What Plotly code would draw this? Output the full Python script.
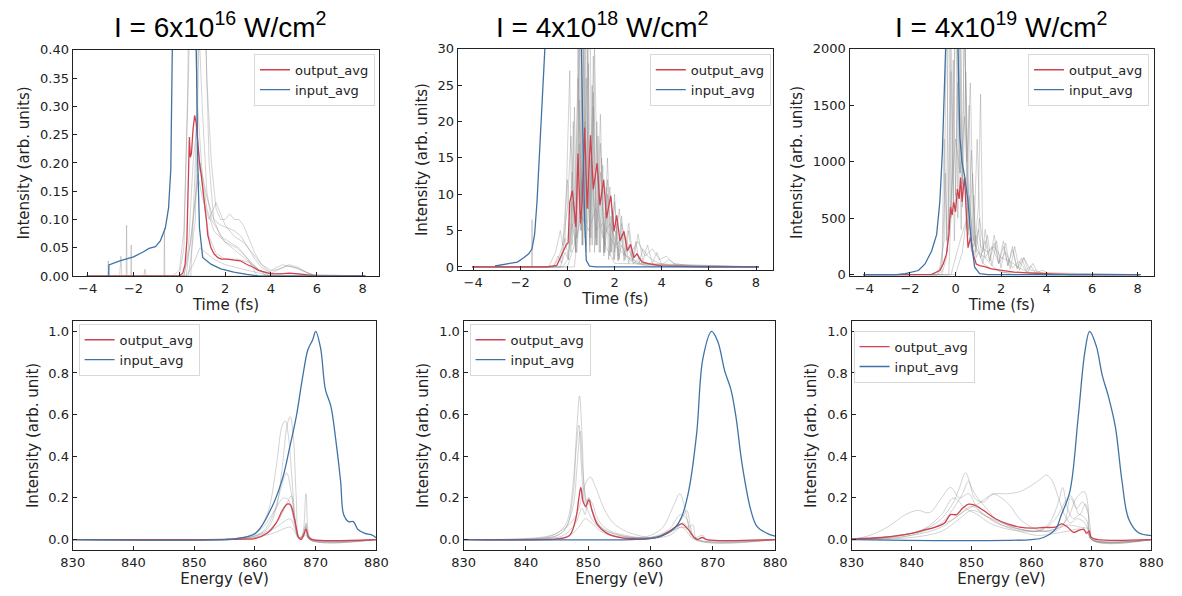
import plotly.graph_objects as go

# ---------------- titles / labels ----------------
titles = ["I = 6x10<sup>16</sup> W/cm<sup>2</sup>",
          "I = 4x10<sup>18</sup> W/cm<sup>2</sup>",
          "I = 4x10<sup>19</sup> W/cm<sup>2</sup>"]
time_ticks = [-4, -2, 0, 2, 4, 6, 8]
energy_ticks = [830, 840, 850, 860, 870, 880]
p1_yticks = [0, 0.05, 0.10, 0.15, 0.20, 0.25, 0.30, 0.35, 0.40]
p2_yticks = [0, 5, 10, 15, 20, 25, 30]
p3_yticks = [0, 500, 1000, 1500, 2000]
spec_yticks = [0, 0.2, 0.4, 0.6, 0.8, 1.0]

# ---------------- panel 1 : time, 6e16 ----------------
p1_red_t = [-4.04, 0.0, 0.15, 0.25, 0.33, 0.38, 0.44, 0.48, 0.53, 0.6, 0.67, 0.74, 0.8, 0.88, 0.97, 1.05, 1.1, 1.18, 1.24, 1.38, 1.52, 1.7, 1.85, 2.09, 2.4, 2.66, 2.97, 3.23, 3.45, 3.7, 4.0, 4.4, 4.8, 5.2, 5.6, 6.0, 8.12]
p1_red_v = [0, 0, 0.005, 0.02, 0.062, 0.14, 0.246, 0.21, 0.217, 0.26, 0.284, 0.27, 0.24, 0.2, 0.175, 0.15, 0.13, 0.1, 0.073, 0.05, 0.039, 0.032, 0.03, 0.03, 0.028, 0.027, 0.02, 0.0156, 0.01, 0.007, 0.004, 0.004, 0.005, 0.004, 0.002, 0, 0]
p1_blue_t = [-3.08, -3.07, -2.6, -2.0, -1.6, -1.4, -1.32, -1.04, -0.83, -0.61, -0.47, -0.37, -0.33, -0.3, 0.2, 0.74, 0.81, 0.88, 1.02, 1.38, 1.81, 2.38, 2.95, 3.5, 8.12]
p1_blue_v = [0, 0.0196, 0.027, 0.034, 0.042, 0.048, 0.049, 0.052, 0.062, 0.085, 0.12, 0.19, 0.30, 0.42, 1.5, 0.4, 0.19, 0.085, 0.033, 0.021, 0.0127, 0.007, 0.003, 0, 0]
p1_g1_t = [-4.04, -0.3, 0.0, 0.2, 0.4, 0.6, 0.8, 1.0, 1.2, 1.4, 1.6, 1.8, 2.0, 2.2, 2.4, 2.6, 2.8, 3.0, 3.3, 3.6, 4.0, 4.5, 5.0, 6.0, 8.12]
p1_g1_v = [0, 0, 0.01, 0.08, 0.35, 0.9, 1.2, 0.7, 0.35, 0.2, 0.12, 0.1, 0.1, 0.11, 0.1, 0.1, 0.09, 0.07, 0.04, 0.02, 0.01, 0.02, 0.015, 0, 0]
p1_g2_t = [-4.04, 0.0, 0.2, 0.35, 0.5, 0.65, 0.8, 1.0, 1.2, 1.5, 2.0, 2.5, 3.0, 3.5, 4.0, 8.12]
p1_g2_v = [0, 0, 0.05, 0.3, 0.7, 0.5, 0.3, 0.18, 0.12, 0.08, 0.06, 0.05, 0.03, 0.01, 0, 0]
p1_g3_t = [-4.04, 0.2, 0.4, 0.6, 0.75, 0.9, 1.1, 1.3, 1.6, 2.0, 2.5, 3.0, 3.5, 4.0, 4.5, 4.8, 5.2, 5.6, 6.0, 8.12]
p1_g3_v = [0, 0, 0.05, 0.2, 0.26, 0.2, 0.12, 0.07, 0.04, 0.03, 0.03, 0.025, 0.01, 0.005, 0.015, 0.02, 0.015, 0.005, 0, 0]
p1_g4_t = [-4.04, 0.2, 0.5, 0.8, 1.0, 1.3, 1.6, 2.0, 2.4, 2.8, 3.2, 3.6, 4.0, 8.12]
p1_g4_v = [0, 0, 0.06, 0.18, 0.14, 0.1, 0.13, 0.09, 0.07, 0.06, 0.04, 0.02, 0.005, 0]
p1_g5_t = [-4.04, 0.3, 0.6, 0.9, 1.2, 1.5, 2.0, 2.5, 3.0, 3.5, 4.0, 8.12]
p1_g5_v = [0, 0, 0.02, 0.05, 0.04, 0.03, 0.02, 0.015, 0.01, 0.005, 0, 0]
p1_g6_t = [-4.04, -3.11, -3.1, -3.09, -2.6, -2.55, -2.5, -2.32, -2.3, -2.28, -2.12, -2.1, -2.08, -1.55, -1.5, -1.45, -0.67, -0.65, -0.63, -0.4, 8.12]
p1_g6_v = [0, 0, 0.027, 0, 0, 0.035, 0, 0, 0.09, 0, 0, 0.055, 0, 0, 0.012, 0, 0, 0.085, 0, 0, 0]
p1_g7_t = [-4.04, 0.4, 0.7, 0.9, 1.0, 1.1, 1.3, 1.5, 1.8, 2.2, 2.6, 3.0, 3.4, 8.12]
p1_g7_v = [0, 0, 0.1, 0.5, 0.8, 0.5, 0.2, 0.1, 0.07, 0.06, 0.05, 0.03, 0.0, 0]
p1_g8_t = [-4.04, 0.3, 0.6, 0.9, 1.2, 1.5, 1.8, 2.1, 2.4, 2.7, 3.0, 3.3, 3.6, 3.9, 4.3, 4.7, 5.1, 5.5, 5.9, 8.12]
p1_g8_v = [0, 0, 0.1, 0.2, 0.14, 0.1, 0.09, 0.085, 0.08, 0.07, 0.05, 0.03, 0.015, 0.008, 0.012, 0.018, 0.015, 0.008, 0, 0]
p1_g9_t = [-4.04, 0.5, 0.7, 0.85, 1.0, 1.2, 1.4, 1.7, 2.0, 2.3, 2.6, 2.9, 3.2, 3.5, 3.8, 8.12]
p1_g9_v = [0, 0, 0.2, 0.45, 0.3, 0.15, 0.1, 0.08, 0.06, 0.05, 0.04, 0.03, 0.02, 0.01, 0, 0]

# ---------------- panel 2 : time, 4e18 ----------------
p2_red_t = [-4.04, -0.9, -0.45, -0.18, -0.04, 0.03, 0.1, 0.21, 0.3, 0.36, 0.45, 0.55, 0.63, 0.73, 0.84, 0.98, 1.1, 1.26, 1.38, 1.54, 1.66, 1.84, 1.98, 2.09, 2.23, 2.4, 2.54, 2.68, 2.82, 2.95, 3.16, 3.44, 4.0, 5.1, 6.0, 8.12]
p2_red_v = [0, 0, 0.2, 2.2, 3.1, 3.3, 8.9, 10.5, 8.0, 5.5, 15.6, 6.0, 9.0, 19.2, 8.0, 18.1, 10.7, 14.3, 8.5, 12.0, 6.7, 9.8, 4.9, 7.1, 3.6, 4.9, 2.2, 3.1, 1.3, 1.8, 0.7, 0.45, 0.15, 0.03, 0, 0]
p2_blue_t = [-3.07, -2.4, -2.12, -1.84, -1.64, -1.5, -1.39, -1.29, -1.15, -1.0, -0.94, -0.2, 0.59, 0.66, 0.73, 0.8, 0.94, 1.2, 8.12]
p2_blue_v = [0.13, 0.45, 0.67, 1.3, 1.8, 2.5, 4.5, 8.9, 17.9, 26.8, 31, 60, 31, 17.9, 6.7, 0.9, 0.1, 0, 0]
p2_g1_t = [-4.04, -0.5, -0.3, -0.1, 0.1, 0.2, 0.3, 0.4, 0.5, 0.6, 0.7, 0.8, 0.9, 1.0, 1.1, 1.2, 1.3, 1.4, 1.5, 1.6, 1.7, 1.8, 1.9, 2.0, 2.1, 2.2, 2.3, 2.4, 2.5, 2.6, 2.7, 2.8, 3.0, 3.2, 3.5, 4.0, 4.5, 8.12]
p2_g1_v = [0, 0, 1, 4, 27, 3, 22, 4, 35, 5, 33, 6, 28, 4, 24, 3, 18, 2, 14, 2, 10, 1.5, 8, 1, 6, 1, 4.5, 0.8, 3, 0.5, 2, 0.4, 1.2, 0.6, 0.3, 0.1, 0, 0]
p2_g2_t = [-4.04, -0.8, -0.5, -0.3, -0.2, 0.0, 0.15, 0.25, 0.35, 0.45, 0.55, 0.65, 0.75, 0.85, 0.95, 1.05, 1.15, 1.25, 1.35, 1.45, 1.55, 1.65, 1.75, 1.85, 1.95, 2.05, 2.15, 2.3, 2.5, 2.7, 3.0, 3.5, 8.12]
p2_g2_v = [0, 0, 2, 5, 3, 12, 2, 20, 3, 31, 5, 40, 4, 30, 3, 25, 2, 20, 2, 15, 1.5, 11, 1, 7, 1, 5, 0.8, 3, 1.5, 0.8, 0.4, 0.1, 0]
p2_g3_t = [-4.04, -0.2, 0.0, 0.2, 0.4, 0.6, 0.8, 1.0, 1.2, 1.4, 1.6, 1.8, 2.0, 2.2, 2.4, 2.6, 2.8, 3.0, 3.2, 3.4, 3.6, 3.8, 4.0, 4.3, 4.6, 5.0, 8.12]
p2_g3_v = [0, 0, 1, 6, 2, 12, 3, 15, 4, 13, 3, 11, 2, 8, 1.5, 6, 1, 4.5, 0.8, 3, 0.5, 2, 0.3, 1, 0.3, 0, 0]
p2_g4_t = [-4.04, -1.52, -1.5, -1.48, -0.6, -0.4, -0.2, 0.0, 0.15, 0.3, 0.45, 0.6, 0.75, 0.9, 1.05, 1.2, 1.5, 2.0, 2.5, 3.0, 8.12]
p2_g4_v = [0, 0, 6.5, 0, 0, 1, 3, 8, 18, 6, 26, 10, 20, 8, 14, 5, 6, 3, 1.5, 0.5, 0]
p2_g5_t = [-4.04, 0.3, 0.45, 0.55, 0.62, 0.7, 0.8, 0.95, 1.05, 1.15, 1.3, 1.6, 2.0, 8.12]
p2_g5_v = [0, 0, 5, 45, 3, 50, 2, 40, 3, 30, 8, 3, 0.5, 0]
p2_g6_t = [-4.04, -0.6, -0.4, -0.25, -0.1, 0.05, 0.2, 0.35, 0.5, 0.65, 0.8, 0.95, 1.1, 1.25, 1.4, 1.55, 1.7, 1.85, 2.0, 2.15, 2.3, 2.45, 2.6, 2.75, 2.9, 3.05, 3.2, 3.4, 3.6, 3.9, 4.3, 8.12]
p2_g6_v = [0, 0, 1.5, 0.5, 4, 1, 9, 2, 17, 3, 26, 4, 22, 3, 17, 2, 12, 2, 9, 1.5, 7, 1, 5, 0.8, 3.5, 0.6, 2.5, 1.5, 1, 0.5, 0.2, 0]
p2_g7_t = [-4.04, -0.3, -0.1, 0.05, 0.2, 0.35, 0.5, 0.65, 0.8, 0.95, 1.1, 1.25, 1.4, 1.55, 1.7, 1.85, 2.0, 2.15, 2.3, 2.5, 2.8, 3.2, 8.12]
p2_g7_v = [0, 0, 2, 1, 13, 2, 23, 3, 38, 2, 29, 3, 21, 2, 15, 2, 10, 1, 6, 3, 1, 0.3, 0]
p2_g8_t = [-4.04, 0.0, 0.3, 0.6, 0.9, 1.2, 1.5, 1.8, 2.1, 2.4, 2.7, 3.0, 3.3, 3.6, 3.9, 4.2, 4.5, 5.0, 5.5, 8.12]
p2_g8_v = [0, 0, 3, 7, 5, 8, 4, 6, 3, 4.5, 2, 3.5, 1.5, 2.5, 1, 1.5, 0.5, 0.3, 0, 0]

# ---------------- panel 3 : time, 4e19 ----------------
p3_red_t = [-4.04, -1.05, -0.69, -0.54, -0.4, -0.29, -0.22, -0.15, -0.08, 0.0, 0.08, 0.16, 0.22, 0.29, 0.36, 0.4, 0.48, 0.55, 0.62, 0.67, 0.77, 0.91, 1.06, 1.28, 1.57, 2.0, 2.58, 3.31, 4.04, 5.06, 8.12]
p3_red_v = [0, 3, 37, 95, 182, 355, 600, 528, 644, 557, 759, 672, 860, 644, 802, 860, 500, 240, 297, 332, 182, 95, 81, 72, 52, 37, 23, 14, 6, 0, 0]
p3_blue_t = [-4.04, -2.6, -2.21, -1.63, -1.34, -1.05, -0.83, -0.69, -0.58, -0.5, -0.44, -0.2, 0.11, 0.19, 0.29, 0.4, 0.55, 0.69, 0.84, 1.06, 1.42, 8.12]
p3_blue_v = [0, 0, 8.7, 37, 95, 210, 355, 644, 1076, 1509, 2000, 3500, 2000, 1220, 990, 874, 644, 297, 66, 8.7, 0, 0]
p3_g1_t = [-4.04, -1.0, -0.7, -0.5, -0.4, -0.3, -0.2, -0.1, 0.0, 0.1, 0.2, 0.3, 0.4, 0.5, 0.6, 0.7, 0.8, 0.9, 1.0, 1.2, 1.5, 2.0, 2.5, 8.12]
p3_g1_v = [0, 0, 50, 300, 2500, 400, 1800, 600, 3000, 500, 2200, 800, 2600, 400, 1500, 300, 700, 150, 200, 100, 60, 30, 0, 0]
p3_g2_t = [-4.04, -0.8, -0.6, -0.45, -0.35, -0.2, -0.05, 0.1, 0.25, 0.4, 0.55, 0.7, 0.85, 1.0, 1.1, 1.2, 1.3, 1.5, 1.7, 1.9, 2.1, 2.3, 2.5, 2.7, 3.0, 3.3, 3.6, 4.0, 8.12]
p3_g2_v = [0, 0, 30, 900, 200, 2100, 300, 1700, 400, 2300, 350, 1100, 250, 600, 1600, 200, 400, 120, 350, 100, 300, 80, 250, 50, 150, 40, 30, 0, 0]
p3_g3_t = [-4.04, 0.0, 0.3, 0.6, 0.8, 1.0, 1.2, 1.4, 1.6, 1.8, 2.0, 2.2, 2.4, 2.6, 2.8, 3.0, 3.2, 3.4, 3.6, 3.8, 4.2, 8.12]
p3_g3_v = [0, 0, 200, 700, 150, 400, 100, 350, 80, 300, 60, 280, 50, 250, 40, 150, 30, 100, 20, 40, 0, 0]
p3_g4_t = [-4.04, -0.6, -0.4, -0.2, 0.0, 0.2, 0.4, 0.6, 0.8, 1.0, 1.3, 1.6, 2.0, 8.12]
p3_g4_v = [0, 0, 150, 700, 1200, 900, 1400, 600, 300, 200, 150, 80, 20, 0]
p3_g5_t = [-4.04, -0.3, -0.15, 0.05, 0.2, 0.35, 0.5, 0.65, 0.8, 0.95, 1.1, 1.4, 1.7, 2.0, 2.4, 2.8, 3.2, 8.12]
p3_g5_v = [0, 0, 800, 2800, 900, 3000, 1000, 1700, 300, 1200, 250, 200, 250, 150, 120, 60, 20, 0]
p3_g6_t = [-4.04, -0.8, -0.6, -0.5, -0.4, -0.3, -0.2, -0.1, 0.0, 0.15, 0.3, 0.45, 0.6, 0.75, 0.9, 1.05, 1.3, 1.6, 1.9, 2.2, 2.5, 2.8, 3.1, 3.5, 8.12]
p3_g6_v = [0, 0, 100, 1200, 300, 2800, 500, 1900, 700, 2500, 600, 1800, 400, 900, 200, 500, 150, 250, 100, 200, 60, 120, 30, 0, 0]
p3_g7_t = [-4.04, -0.2, 0.2, 0.5, 0.7, 0.9, 1.1, 1.3, 1.5, 1.7, 1.9, 2.1, 2.3, 2.5, 2.7, 2.9, 3.1, 3.3, 3.5, 3.8, 8.12]
p3_g7_v = [0, 0, 300, 500, 200, 350, 150, 300, 120, 280, 100, 250, 80, 220, 60, 150, 40, 80, 20, 0, 0]

# ---------------- panel 4 : spectrum, 6e16 ----------------
p4_red_e = [830, 855, 858, 860, 862, 863.5, 864.5, 865.3, 865.8, 866.5, 867.2, 867.6, 868.0, 868.4, 868.9, 869.5, 880]
p4_red_v = [0, 0, 0.002, 0.005, 0.03, 0.08, 0.14, 0.17, 0.168, 0.1, 0.01, 0.0, 0.02, 0.05, 0.01, 0, 0]
p4_blue_e = [830, 855, 857, 860.1, 863.0, 864.6, 865.7, 866.8, 867.9, 868.7, 869.5, 870.0, 870.8, 871.6, 872.5, 873.3, 874.1, 874.6, 875.4, 876.2, 877.0, 878.1, 879.2, 880]
p4_blue_v = [0, 0, 0.005, 0.03, 0.17, 0.3, 0.44, 0.59, 0.79, 0.91, 0.96, 1.0, 0.92, 0.72, 0.64, 0.48, 0.28, 0.12, 0.086, 0.086, 0.047, 0.03, 0.023, 0.008]
p4_g1_e = [830, 850, 855, 858, 860, 862, 863.5, 864.5, 865, 865.5, 866.2, 866.8, 867.3, 867.8, 868.4, 868.9, 869.5, 880]
p4_g1_v = [0, 0, 0.003, 0.01, 0.03, 0.12, 0.35, 0.55, 0.57, 0.5, 0.25, 0.05, 0.005, 0.02, 0.22, 0.02, 0, 0]
p4_g2_e = [830, 852, 857, 860, 862, 863.5, 864.5, 865.3, 865.8, 866.3, 866.8, 867.3, 868, 868.4, 868.8, 869.5, 880]
p4_g2_v = [0, 0, 0.005, 0.02, 0.05, 0.15, 0.35, 0.55, 0.59, 0.5, 0.2, 0.01, 0.02, 0.08, 0.01, 0, 0]
p4_g3_e = [830, 853, 858, 861, 863, 864.3, 865.2, 866, 866.6, 867.2, 867.8, 868.4, 869, 880]
p4_g3_v = [0, 0, 0.005, 0.03, 0.12, 0.25, 0.32, 0.22, 0.08, 0.005, 0.01, 0.06, 0, 0]
p4_g4_e = [830, 852, 858, 861, 863, 864.3, 864.8, 865.5, 866.2, 866.8, 867.4, 868.4, 869, 880]
p4_g4_v = [0, 0, 0.01, 0.05, 0.13, 0.19, 0.2, 0.19, 0.12, 0.04, 0.005, 0.04, 0, 0]
p4_g5_e = [830, 854, 859, 862, 864, 865.2, 866, 866.5, 867, 867.5, 868.4, 869, 880]
p4_g5_v = [0, 0, 0.01, 0.04, 0.1, 0.17, 0.21, 0.12, 0.02, 0.0, 0.07, 0, 0]
p4_g6_e = [830, 855, 860, 863, 865, 865.8, 866.5, 867.2, 868.4, 869, 880]
p4_g6_v = [0, 0, 0.01, 0.05, 0.09, 0.1, 0.06, 0.01, 0.03, 0, 0]
p4_g7_e = [830, 856, 860, 863, 865, 865.8, 866.6, 867.2, 868.4, 869, 880]
p4_g7_v = [0, 0, 0.01, 0.03, 0.055, 0.06, 0.035, 0.005, 0.02, 0, 0]

# ---------------- panel 5 : spectrum, 4e18 ----------------
p5_red_e = [830, 843, 845, 847, 848, 848.5, 848.8, 849.2, 849.6, 850.1, 850.6, 851.5, 853, 855, 858, 861, 863, 864, 865, 866, 867, 867.5, 868.3, 869, 880]
p5_red_v = [0, 0, 0.003, 0.02, 0.1, 0.2, 0.25, 0.18, 0.16, 0.19, 0.14, 0.07, 0.03, 0.01, 0.003, 0.01, 0.04, 0.06, 0.075, 0.05, 0.01, 0.0, 0.01, 0, 0]
p5_blue_e = [830, 857, 860, 862, 864, 865, 866.1, 867.4, 868.4, 869.8, 870.8, 871.9, 872.9, 873.7, 874.7, 876.1, 877.1, 878.7, 880]
p5_blue_v = [0, 0, 0.005, 0.02, 0.06, 0.11, 0.23, 0.51, 0.87, 1.0, 0.95, 0.81, 0.72, 0.59, 0.36, 0.14, 0.062, 0.03, 0.016]
p5_g1_e = [830, 840, 843, 845, 846.5, 847.5, 848.2, 848.6, 849.0, 849.5, 850.2, 851, 852, 854, 857, 860, 862, 864, 865, 866, 867, 868.4, 869, 880]
p5_g1_v = [0, 0.003, 0.01, 0.03, 0.08, 0.25, 0.55, 0.69, 0.5, 0.2, 0.12, 0.08, 0.05, 0.02, 0.01, 0.01, 0.02, 0.05, 0.06, 0.05, 0.01, 0.02, 0, 0]
p5_g2_e = [830, 842, 845, 846.5, 847.5, 848.1, 848.5, 849, 849.6, 850.1, 850.8, 852, 854, 857, 860, 862, 863.5, 864.7, 865.5, 866.3, 867.2, 868.4, 869, 880]
p5_g2_v = [0, 0.005, 0.02, 0.06, 0.2, 0.45, 0.55, 0.3, 0.15, 0.2, 0.12, 0.06, 0.03, 0.01, 0.02, 0.06, 0.15, 0.22, 0.15, 0.05, 0.005, 0.01, 0, 0]
p5_g3_e = [830, 840, 844, 846, 847.5, 848.5, 849.3, 850.3, 851.2, 852.5, 854, 856, 858, 860, 862, 864, 865.2, 866, 866.8, 867.5, 880]
p5_g3_v = [0, 0.005, 0.02, 0.05, 0.09, 0.15, 0.25, 0.3, 0.25, 0.15, 0.08, 0.04, 0.02, 0.01, 0.02, 0.05, 0.08, 0.06, 0.07, 0.0, 0]
p5_g4_e = [830, 843, 846, 848, 849, 849.5, 850, 850.7, 851.5, 853, 856, 860, 863, 865, 865.8, 866.5, 867.2, 880]
p5_g4_v = [0, 0.005, 0.02, 0.08, 0.15, 0.12, 0.2, 0.17, 0.1, 0.05, 0.02, 0.01, 0.04, 0.1, 0.14, 0.05, 0, 0]
p5_g5_e = [830, 845, 847, 848.5, 849.5, 850.5, 852, 855, 860, 863, 865, 866, 867, 880]
p5_g5_v = [0, 0.005, 0.02, 0.06, 0.1, 0.08, 0.04, 0.01, 0.005, 0.02, 0.06, 0.03, 0, 0]
p5_g6_e = [830, 844, 846, 847.5, 848.2, 848.7, 849.2, 849.8, 850.4, 851.5, 853, 856, 860, 863, 864.8, 865.8, 866.8, 880]
p5_g6_v = [0, 0.01, 0.04, 0.15, 0.35, 0.52, 0.3, 0.18, 0.16, 0.08, 0.04, 0.015, 0.01, 0.05, 0.12, 0.1, 0.01, 0]

# ---------------- panel 6 : spectrum, 4e19 ----------------
p6_red_e = [830, 835, 838, 840, 842, 844, 845.5, 846.5, 847.5, 848.5, 849.5, 850.5, 852, 854, 856, 858, 860, 862, 864, 865, 866, 867, 868, 868.7, 869.2, 869.6, 870, 871, 880]
p6_red_v = [0.003, 0.01, 0.02, 0.03, 0.045, 0.06, 0.08, 0.12, 0.12, 0.15, 0.17, 0.165, 0.14, 0.1, 0.075, 0.06, 0.055, 0.058, 0.06, 0.075, 0.06, 0.035, 0.045, 0.05, 0.03, 0.04, 0.01, 0.0, 0]
p6_blue_e = [830, 860, 862, 864, 865, 866.4, 867.8, 868.9, 869.7, 870.8, 871.8, 872.9, 874.0, 875.1, 876.2, 877.8, 880]
p6_blue_v = [0, 0, 0.01, 0.05, 0.12, 0.23, 0.59, 0.9, 1.0, 0.93, 0.79, 0.68, 0.54, 0.28, 0.10, 0.034, 0.019]
p6_g1_e = [830, 835, 840, 844, 847, 849, 851, 852.5, 854, 856, 858, 860, 861.5, 862.5, 863.5, 864.5, 865.5, 866.5, 867.5, 868.5, 869.5, 870, 880]
p6_g1_v = [0, 0.01, 0.03, 0.06, 0.1, 0.14, 0.17, 0.2, 0.22, 0.22, 0.23, 0.26, 0.29, 0.31, 0.28, 0.2, 0.12, 0.08, 0.1, 0.09, 0.05, 0, 0]
p6_g2_e = [830, 836, 840, 843, 845, 847, 848, 849, 850, 851, 852.5, 854, 856, 858, 860, 862, 864, 866, 868, 869.5, 870, 880]
p6_g2_v = [0, 0.01, 0.03, 0.06, 0.1, 0.18, 0.25, 0.32, 0.25, 0.2, 0.15, 0.1, 0.07, 0.05, 0.04, 0.04, 0.05, 0.07, 0.06, 0.05, 0, 0]
p6_g3_e = [830, 833, 836, 839, 841, 843, 845, 846.5, 848, 849.5, 851, 853, 855, 858, 861, 864, 866, 867.5, 868.8, 869.5, 870, 880]
p6_g3_v = [0, 0.02, 0.06, 0.12, 0.14, 0.13, 0.2, 0.25, 0.2, 0.22, 0.15, 0.1, 0.07, 0.05, 0.04, 0.05, 0.1, 0.2, 0.23, 0.15, 0, 0]
p6_g4_e = [830, 838, 842, 845, 847, 848.5, 849.5, 850.5, 852, 853.5, 855, 856.5, 858, 860, 862, 864, 865.5, 866.5, 867.5, 868.5, 869.5, 870, 880]
p6_g4_v = [0, 0.01, 0.04, 0.08, 0.15, 0.22, 0.28, 0.2, 0.18, 0.22, 0.2, 0.16, 0.1, 0.06, 0.04, 0.04, 0.08, 0.2, 0.15, 0.18, 0.12, 0, 0]
p6_g5_e = [830, 840, 845, 848, 850, 852, 855, 858, 861, 863, 864.5, 865.2, 866, 867, 868, 869, 869.7, 870.2, 880]
p6_g5_v = [0, 0.02, 0.06, 0.12, 0.16, 0.12, 0.08, 0.05, 0.04, 0.08, 0.18, 0.25, 0.15, 0.1, 0.12, 0.1, 0.05, 0, 0]
p6_g6_e = [830, 840, 845, 848, 850, 852, 855, 858, 861, 864, 866, 868, 869.5, 870, 880]
p6_g6_v = [0, 0.01, 0.04, 0.1, 0.14, 0.12, 0.07, 0.04, 0.02, 0.03, 0.04, 0.05, 0.03, 0, 0]
p6_g7_e = [830, 838, 842, 845, 847, 849, 851, 853, 856, 859, 862, 864, 866.5, 868, 869, 869.8, 870.1, 880]
p6_g7_v = [0, 0.02, 0.05, 0.12, 0.2, 0.15, 0.12, 0.08, 0.05, 0.04, 0.05, 0.1, 0.21, 0.12, 0.17, 0.06, 0, 0]

panels = [
    dict(grays=[(p1_g1_t, p1_g1_v), (p1_g2_t, p1_g2_v), (p1_g3_t, p1_g3_v), (p1_g4_t, p1_g4_v),
                (p1_g5_t, p1_g5_v), (p1_g6_t, p1_g6_v), (p1_g7_t, p1_g7_v), (p1_g8_t, p1_g8_v),
                (p1_g9_t, p1_g9_v)],
         red=(p1_red_t, p1_red_v), blue=(p1_blue_t, p1_blue_v), shape="linear"),
    dict(grays=[(p2_g1_t, p2_g1_v), (p2_g2_t, p2_g2_v), (p2_g3_t, p2_g3_v), (p2_g4_t, p2_g4_v),
                (p2_g5_t, p2_g5_v), (p2_g6_t, p2_g6_v), (p2_g7_t, p2_g7_v), (p2_g8_t, p2_g8_v)],
         red=(p2_red_t, p2_red_v), blue=(p2_blue_t, p2_blue_v), shape="linear"),
    dict(grays=[(p3_g1_t, p3_g1_v), (p3_g2_t, p3_g2_v), (p3_g3_t, p3_g3_v), (p3_g4_t, p3_g4_v),
                (p3_g5_t, p3_g5_v), (p3_g6_t, p3_g6_v), (p3_g7_t, p3_g7_v)],
         red=(p3_red_t, p3_red_v), blue=(p3_blue_t, p3_blue_v), shape="linear"),
    dict(grays=[(p4_g1_e, p4_g1_v), (p4_g2_e, p4_g2_v), (p4_g3_e, p4_g3_v), (p4_g4_e, p4_g4_v),
                (p4_g5_e, p4_g5_v), (p4_g6_e, p4_g6_v), (p4_g7_e, p4_g7_v)],
         red=(p4_red_e, p4_red_v), blue=(p4_blue_e, p4_blue_v), shape="spline"),
    dict(grays=[(p5_g1_e, p5_g1_v), (p5_g2_e, p5_g2_v), (p5_g3_e, p5_g3_v), (p5_g4_e, p5_g4_v),
                (p5_g5_e, p5_g5_v), (p5_g6_e, p5_g6_v)],
         red=(p5_red_e, p5_red_v), blue=(p5_blue_e, p5_blue_v), shape="spline"),
    dict(grays=[(p6_g1_e, p6_g1_v), (p6_g2_e, p6_g2_v), (p6_g3_e, p6_g3_v), (p6_g4_e, p6_g4_v),
                (p6_g5_e, p6_g5_v), (p6_g6_e, p6_g6_v), (p6_g7_e, p6_g7_v)],
         red=(p6_red_e, p6_red_v), blue=(p6_blue_e, p6_blue_v), shape="spline"),
]

W, H = 1182, 596
# axes boxes in pixels: (left, right, top, bottom)
boxes = [(62, 375, 44, 276), (455, 777, 43, 270), (855, 1166, 43, 276),
         (62, 372, 322, 557), (461, 779, 322, 557), (857, 1163, 322, 557)]
legend_pos = [(247, 48), (651, 48), (1037, 48), (68, 325), (467, 325), (859, 332)]

RED = "#cf4250"
BLUE = "#3f73a6"
GRAY = "rgba(140,140,140,0.38)"
FONT = "DejaVu Sans"

fig = go.Figure()
for i, p in enumerate(panels):
    xa = "x" if i == 0 else f"x{i+1}"
    ya = "y" if i == 0 else f"y{i+1}"
    lg = "legend" if i == 0 else f"legend{i+1}"
    for gx, gy in p["grays"]:
        fig.add_trace(go.Scatter(x=gx, y=gy, mode="lines", xaxis=xa, yaxis=ya,
                                 line=dict(color=GRAY, width=1, shape=p["shape"]),
                                 showlegend=False, hoverinfo="skip"))
    fig.add_trace(go.Scatter(x=p["red"][0], y=p["red"][1], mode="lines", name="output_avg",
                             xaxis=xa, yaxis=ya, legend=lg,
                             line=dict(color=RED, width=1.3, shape=p["shape"])))
    fig.add_trace(go.Scatter(x=p["blue"][0], y=p["blue"][1], mode="lines", name="input_avg",
                             xaxis=xa, yaxis=ya, legend=lg,
                             line=dict(color=BLUE, width=1.3, shape=p["shape"])))

axis_common = dict(showline=True, mirror=True, linecolor="#222", linewidth=1.3,
                   ticks="inside", ticklen=4, tickwidth=1.3, tickcolor="#222",
                   showgrid=False, zeroline=False,
                   tickfont=dict(family=FONT, size=13, color="#222"))

yranges = [[0, 0.4], [-0.45, 30], [-12, 2000], [-0.05, 1.05], [-0.05, 1.05], [-0.05, 1.05]]
yticks = [p1_yticks, p2_yticks, p3_yticks, spec_yticks, spec_yticks, spec_yticks]
yfmt = [".2f", "d", "d", ".1f", ".1f", ".1f"]
layout = dict(width=W, height=H, margin=dict(l=0, r=0, t=0, b=0),
              paper_bgcolor="white", plot_bgcolor="white", showlegend=True)
for i in range(6):
    l, r, t, b = boxes[i]
    xk = "xaxis" if i == 0 else f"xaxis{i+1}"
    yk = "yaxis" if i == 0 else f"yaxis{i+1}"
    xname = "x" if i == 0 else f"x{i+1}"
    yname = "y" if i == 0 else f"y{i+1}"
    top = i < 3
    layout[xk] = dict(axis_common, domain=[l / W, r / W], anchor=yname,
                      range=[-4.65, 8.73] if top else [830, 880],
                      tickvals=time_ticks if top else energy_ticks,
                      title=dict(text="Time (fs)" if top else "Energy (eV)",
                                 font=dict(family=FONT, size=15, color="#222"), standoff=2))
    layout[yk] = dict(axis_common, domain=[1 - b / H, 1 - t / H], anchor=xname,
                      range=yranges[i], tickvals=yticks[i], tickformat=yfmt[i],
                      title=dict(text="Intensity (arb. units)" if top else "Intensity (arb. unit)",
                                 font=dict(family=FONT, size=15, color="#222"), standoff=6))
    lx, ly = legend_pos[i]
    lk = "legend" if i == 0 else f"legend{i+1}"
    layout[lk] = dict(x=lx / W, y=1 - ly / H, xanchor="left", yanchor="top",
                      bgcolor="rgba(255,255,255,0.85)", bordercolor="#d8d8d8", borderwidth=1,
                      font=dict(family=FONT, size=13, color="#222"), tracegroupgap=0,
                      itemwidth=30)

fig.update_layout(**layout)

title_x = [212, 602, 1009]
for tx, txt in zip(title_x, titles):
    fig.add_annotation(text=txt, x=tx / W, y=1 - 18 / H, xref="paper", yref="paper",
                       xanchor="center", yanchor="middle", showarrow=False,
                       font=dict(family="Liberation Sans", size=28, color="black"))

fig.write_html("out.html")
